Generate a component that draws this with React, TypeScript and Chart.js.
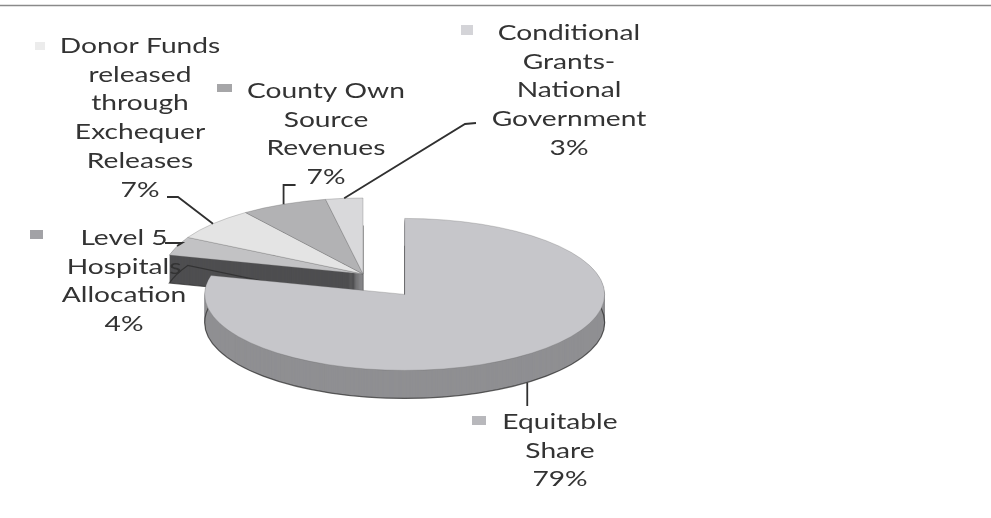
import React, { useEffect, useRef } from "react";
import { Chart, registerables } from "chart.js";

Chart.register(...registerables);

// ---- data ----
const categories = [
  "Equitable Share",
  "Level 5 Hospitals Allocation",
  "Donor Funds released through Exchequer Releases",
  "County Own Source Revenues",
  "Conditional Grants-National Government",
];
const shares = [79, 4, 7, 7, 3];
const percentLabels = ["79%", "4%", "7%", "7%", "3%"];
const labelLines = [
  ["Equitable", "Share"],
  ["Level 5", "Hospitals", "Allocation"],
  ["Donor Funds", "released", "through", "Exchequer", "Releases"],
  ["County Own", "Source", "Revenues"],
  ["Conditional", "Grants-", "National", "Government"],
];

// ---- styles / layout ----
const TOP_COLORS = ["#c6c6ca", "#c2c2c4", "#e4e4e4", "#b2b2b4", "#d9d9db"];
const SIDE_COLORS = ["#8f8f92", "#4e4e50", "#a9a9ab", "#7c7c7e", "#a3a3a5"];
const MARKER_COLORS = ["#b8b8bc", "#a2a2a6", "#ececec", "#a6a6a8", "#d4d4d8"];
const EXPLODE = [68, 0, 0, 0, 0];
const TILT = 0.38;
const DEPTH = 28;
const FONT = "22px Lato";
const STRETCH = 1.28;
const LINE_H = 28.7;
const TEXT_COLOR = "#333333";

type Pt = [number, number];
const LABEL_LAYOUT: {
  cx: number;
  baseline: number;
  marker: [number, number, number, number];
  leader: (sx: number, sy: number) => Pt[];
  depth: boolean;
}[] = [
  { cx: 560, baseline: 429, marker: [472, 416, 14, 9], depth: true,
    leader: (sx, sy) => [[sx, sy], [sx, 406]] },
  { cx: 124, baseline: 245, marker: [30, 230, 13, 9], depth: false,
    leader: (sx, sy) => [[165, 243], [182, 243], [sx, sy]] },
  { cx: 140, baseline: 53, marker: [35, 42, 10, 8], depth: false,
    leader: (sx, sy) => [[167, 197], [178, 197], [sx, sy]] },
  { cx: 326, baseline: 98, marker: [217, 84, 15, 8], depth: false,
    leader: (sx, sy) => [[sx, sy], [sx, 185], [sx + 12, 185]] },
  { cx: 569, baseline: 40, marker: [461, 25, 12, 10], depth: false,
    leader: (sx, sy) => [[sx, sy], [465, 124], [476, 123]] },
];

type Wedge = { i: number; cx: number; cy: number; r: number; s: number; e: number; mid: number };

function getWedges(chart: any): Wedge[] {
  const meta = chart.getDatasetMeta(0);
  return meta.data.map((arc: any, i: number) => {
    const p = arc.getProps(["x", "y", "startAngle", "endAngle", "outerRadius"], true);
    const mid = (p.startAngle + p.endAngle) / 2;
    const off = EXPLODE[i];
    return {
      i,
      cx: p.x + Math.cos(mid) * off,
      cy: p.y + Math.sin(mid) * off * TILT,
      r: p.outerRadius,
      s: p.startAngle,
      e: p.endAngle,
      mid,
    };
  });
}

function wedgePath(ctx: CanvasRenderingContext2D, w: Wedge, dz: number) {
  ctx.beginPath();
  ctx.moveTo(w.cx, w.cy + dz);
  ctx.ellipse(w.cx, w.cy + dz, w.r, w.r * TILT, 0, w.s, w.e);
  ctx.closePath();
}

const pie3d = {
  id: "pie3d",
  beforeDatasetsDraw(chart: any) {
    const ctx: CanvasRenderingContext2D = chart.ctx;
    const wedges = getWedges(chart);
    const offs = Array.from(new Set(EXPLODE)).sort((a, b) => a - b);
    ctx.save();
    for (const off of offs) {
      const group = wedges.filter((w) => EXPLODE[w.i] === off);
      // sides, back to front
      const sideOrder = [...group].sort((a, b) => Math.sin(a.mid) - Math.sin(b.mid));
      for (const w of sideOrder) {
        for (let dz = DEPTH; dz >= 1; dz--) {
          wedgePath(ctx, w, dz);
          ctx.fillStyle = SIDE_COLORS[w.i];
          ctx.fill();
        }
        wedgePath(ctx, w, DEPTH);
        ctx.strokeStyle = "rgba(40,40,40,0.7)";
        ctx.lineWidth = 1.2;
        ctx.stroke();
      }
      // tops
      for (const w of group) {
        wedgePath(ctx, w, 0);
        ctx.fillStyle = TOP_COLORS[w.i];
        ctx.fill();
        ctx.strokeStyle = "rgba(90,90,90,0.35)";
        ctx.lineWidth = 0.8;
        ctx.stroke();
      }
    }
    ctx.restore();
    return false;
  },
};

const labelsPlugin = {
  id: "pieLabels",
  afterDraw(chart: any) {
    const ctx: CanvasRenderingContext2D = chart.ctx;
    const wedges = getWedges(chart);
    ctx.save();
    // frame top line
    ctx.strokeStyle = "#8a8a8a";
    ctx.lineWidth = 1.5;
    ctx.beginPath();
    ctx.moveTo(0, 5.5);
    ctx.lineTo(chart.width, 5.5);
    ctx.stroke();

    wedges.forEach((w) => {
      const L = LABEL_LAYOUT[w.i];
      const sx = w.cx + w.r * Math.cos(w.mid);
      const sy = w.cy + w.r * TILT * Math.sin(w.mid) + (L.depth ? DEPTH : 0);
      // leader
      const pts = L.leader(sx, sy);
      ctx.strokeStyle = "#303030";
      ctx.lineWidth = 1.8;
      ctx.beginPath();
      pts.forEach((p, k) => (k === 0 ? ctx.moveTo(p[0], p[1]) : ctx.lineTo(p[0], p[1])));
      ctx.stroke();
      // marker
      const [mx, my, mw, mh] = L.marker;
      ctx.fillStyle = MARKER_COLORS[w.i];
      ctx.fillRect(mx, my, mw, mh);
      // text
      const lines = [...labelLines[w.i], percentLabels[w.i]];
      ctx.fillStyle = TEXT_COLOR;
      ctx.font = FONT;
      ctx.textAlign = "center";
      ctx.textBaseline = "alphabetic";
      lines.forEach((t, k) => {
        ctx.save();
        ctx.translate(L.cx, L.baseline + k * LINE_H);
        ctx.scale(STRETCH, 1);
        ctx.fillText(t, 0, 0);
        ctx.restore();
      });
    });
    ctx.restore();
  },
};

export default function App() {
  const ref = useRef<HTMLCanvasElement>(null);
  useEffect(() => {
    if (!ref.current) return;
    const chart = new Chart(ref.current, {
      type: "pie",
      data: {
        labels: categories,
        datasets: [{ data: shares, backgroundColor: TOP_COLORS, borderWidth: 0 }],
      },
      options: {
        responsive: false,
        animation: false,
        radius: 200,
        events: [],
        layout: { padding: { left: 0, right: 265, top: 30, bottom: 0 } },
        plugins: { legend: { display: false }, tooltip: { enabled: false } },
      } as any,
      plugins: [pie3d, labelsPlugin],
    });
    return () => chart.destroy();
  }, []);
  return (
    <div style={{ position: "fixed", left: 0, top: 0, width: 991, height: 518, background: "#ffffff" }}>
      <canvas ref={ref} width={991} height={518} style={{ display: "block" }} />
    </div>
  );
}
